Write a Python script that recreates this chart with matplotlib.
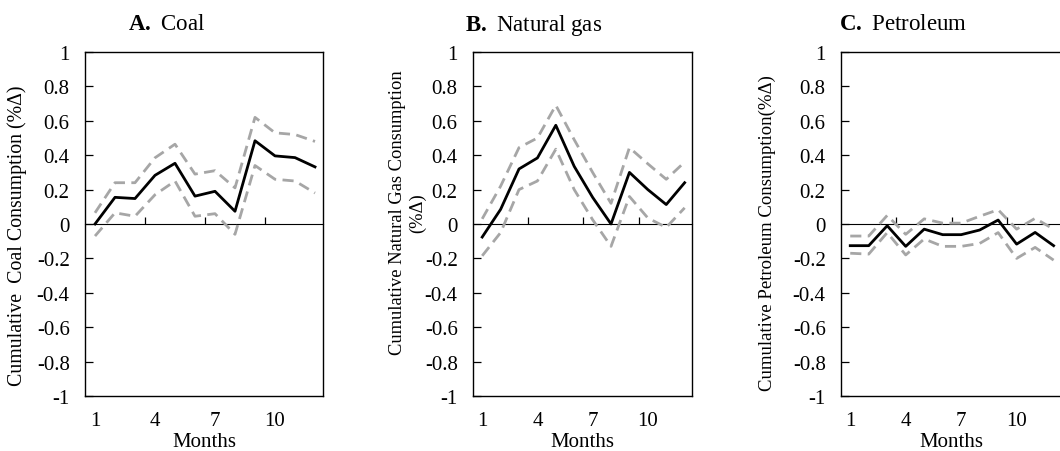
import matplotlib
matplotlib.use('Agg')
import matplotlib.pyplot as plt
import numpy as np

plt.rcParams['font.family'] = ['Liberation Serif', 'DejaVu Serif']
plt.rcParams['mathtext.fontset'] = 'custom'
plt.rcParams['mathtext.rm'] = 'Liberation Serif'
plt.rcParams['mathtext.bf'] = 'Liberation Serif:bold'
plt.rcParams['axes.unicode_minus'] = False

months = np.arange(1, 13)
month_ticks = [1, 4, 7, 10]
y_ticks = [-1, -0.8, -0.6, -0.4, -0.2, 0, 0.2, 0.4, 0.6, 0.8, 1]
y_tick_labels = ['-1', '-0.8', '-0.6', '-0.4', '-0.2', '0', '0.2', '0.4', '0.6', '0.8', '1']

# coal: estimate with upper / lower bands
coal_mean = [0.0, 0.155, 0.148, 0.283, 0.353, 0.162, 0.19, 0.074, 0.484, 0.396, 0.386, 0.332]
coal_upper = [0.065, 0.24, 0.24, 0.385, 0.464, 0.29, 0.31, 0.21, 0.62, 0.53, 0.52, 0.48]
coal_lower = [-0.07, 0.065, 0.045, 0.17, 0.25, 0.045, 0.06, -0.06, 0.34, 0.26, 0.25, 0.18]

# natural gas
gas_mean = [-0.076, 0.085, 0.32, 0.384, 0.574, 0.335, 0.155, 0.0, 0.30, 0.20, 0.113, 0.24]
gas_upper = [0.03, 0.22, 0.444, 0.50, 0.69, 0.49, 0.30, 0.12, 0.444, 0.35, 0.26, 0.36]
gas_lower = [-0.185, -0.05, 0.20, 0.25, 0.435, 0.20, 0.025, -0.13, 0.16, 0.035, -0.02, 0.094]

# petroleum
pet_mean = [-0.126, -0.126, -0.01, -0.13, -0.03, -0.062, -0.062, -0.035, 0.023, -0.117, -0.049, -0.126]
pet_upper = [-0.07, -0.07, 0.05, -0.06, 0.03, 0.005, 0.005, 0.045, 0.083, -0.03, 0.033, -0.03]
pet_lower = [-0.17, -0.175, -0.05, -0.18, -0.087, -0.13, -0.13, -0.113, -0.05, -0.2, -0.136, -0.21]

W, H = 1060, 452
fig = plt.figure(figsize=(W / 100, H / 100), dpi=100)


def px_axes(left, right, top, bottom):
    return fig.add_axes([left / W, 1 - bottom / H, (right - left) / W, (bottom - top) / H])


panels = [
    dict(box=(85, 323, 53, 397), mean=coal_mean, up=coal_upper, lo=coal_lower,
         tag='A.', name='Coal', tx=128,
         ylabel='Cumulative  Coal Consumption (%Δ)', ylx=-0.245, yly=0.47, yfs=14.3),
    dict(box=(473, 692, 53, 397), mean=gas_mean, up=gas_upper, lo=gas_lower,
         tag='B.', name='Natural gas', tx=465,
         ylabel='Cumulative Natural Gas Consumption\n(%Δ)', ylx=-0.215, yly=0.535, yfs=13.3),
    dict(box=(841, 1061, 53, 397), mean=pet_mean, up=pet_upper, lo=pet_lower,
         tag='C.', name='Petroleum', tx=839,
         ylabel='Cumulative Petroleum Consumption(%Δ)', ylx=-0.295, yly=0.476, yfs=13.5),
]

gray = '#a6a6a6'
for p in panels:
    ax = px_axes(*p['box'])
    ax.plot(months, p['up'], color=gray, lw=2, dashes=(4, 2.3))
    ax.plot(months, p['lo'], color=gray, lw=2, dashes=(4, 2.3))
    ax.plot(months, p['mean'], color='black', lw=2)
    ax.set_xlim(0.5, 12.4)
    ax.set_ylim(-1, 1)
    ax.set_yticks(y_ticks)
    ax.set_yticklabels(y_tick_labels)
    ax.tick_params(axis='y', direction='in', length=5.5, width=0.9, pad=11, labelsize=15)
    ax.set_xticks(month_ticks)
    ax.tick_params(axis='x', length=0, pad=11, labelsize=15)
    ax.set_xlabel('Months', fontsize=15, labelpad=1)
    for s in ax.spines.values():
        s.set_linewidth(1.0)
    # zero line with category tick marks
    zero = ax.secondary_xaxis(0.5)
    zero.set_xticks([3.5, 6.5, 9.5])
    zero.set_xticklabels([])
    zero.tick_params(direction='out', length=5, width=0.9)
    zero.spines['bottom'].set_linewidth(0.9)
    ax.set_ylabel(p['ylabel'], fontsize=p['yfs'], linespacing=1.2, multialignment='center')
    ax.yaxis.set_label_coords(p['ylx'], p['yly'])
    fig.text(p['tx'] / W, 1 - 25 / H, r'$\mathbf{' + p['tag'] + '}$ ' + p['name'],
             fontsize=16.5, ha='left', va='center')

fig.savefig('out.png', dpi=100)
